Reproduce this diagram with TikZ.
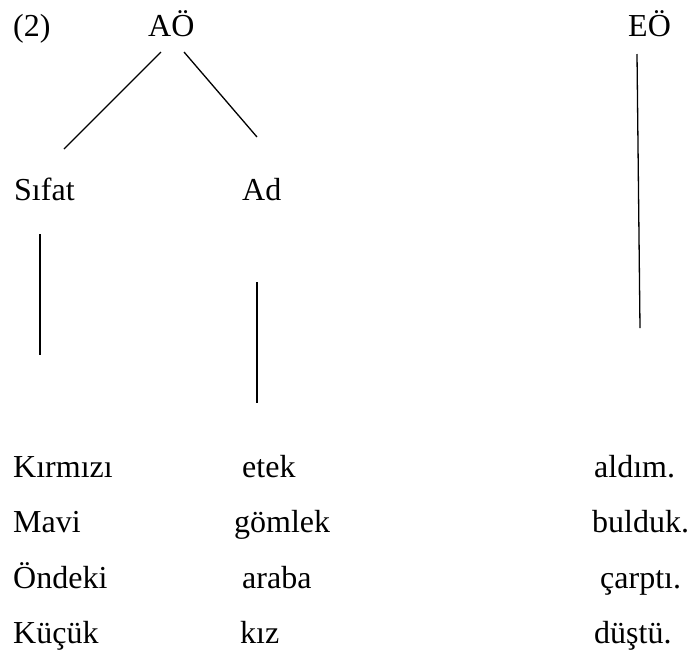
\documentclass[tikz,border=0pt]{standalone}
\usepackage{fontspec}
\setmainfont{Liberation Serif}
\begin{document}
\begin{tikzpicture}[x=1pt,y=-1pt,
  word/.style={anchor=base west,inner sep=0pt,font=\fontsize{32}{38}\selectfont},
  branch/.style={line width=1.3pt}]
\useasboundingbox (0,0) rectangle (693,651);
\node[word] (n2) at (13,36) {(2)};
\node[word] (ao) at (148,36) {AÖ};
\node[word] (eo) at (628,36) {EÖ};
\node[word] (sifat) at (14,200) {Sıfat};
\node[word] (ad) at (242,200) {Ad};
% rows
\node[word] (r1a) at (13,477) {Kırmızı};
\node[word] (r2a) at (13,532) {Mavi};
\node[word] (r3a) at (13,588) {Öndeki};
\node[word] (r4a) at (13,643) {Küçük};
\node[word] (r1b) at (242,477) {etek};
\node[word] (r2b) at (234,532) {gömlek};
\node[word] (r3b) at (242,588) {araba};
\node[word] (r4b) at (240,643) {kız};
\node[word] (r1c) at (594,477) {aldım.};
\node[word] (r2c) at (592,532) {bulduk.};
\node[word] (r3c) at (600,588) {çarptı.};
\node[word] (r4c) at (594,643) {düştü.};
% connector ends
\coordinate (aoL) at (161,52);
\coordinate (aoR) at (184,52);
\coordinate (sifT) at (64,149);
\coordinate (adT) at (257,137);
\coordinate (eoT) at (637,54);
\coordinate (eoB) at (640,328);
\coordinate (sifA) at (40,234);
\coordinate (sifB) at (40,355);
\coordinate (adA) at (257,282);
\coordinate (adB) at (257,403);
\draw[branch] (aoL) -- (sifT);
\draw[branch] (aoR) -- (adT);
\draw[branch] (eoT) -- (eoB);
\draw[branch] (sifA) -- (sifB);
\draw[branch] (adA) -- (adB);
\end{tikzpicture}
\end{document}
